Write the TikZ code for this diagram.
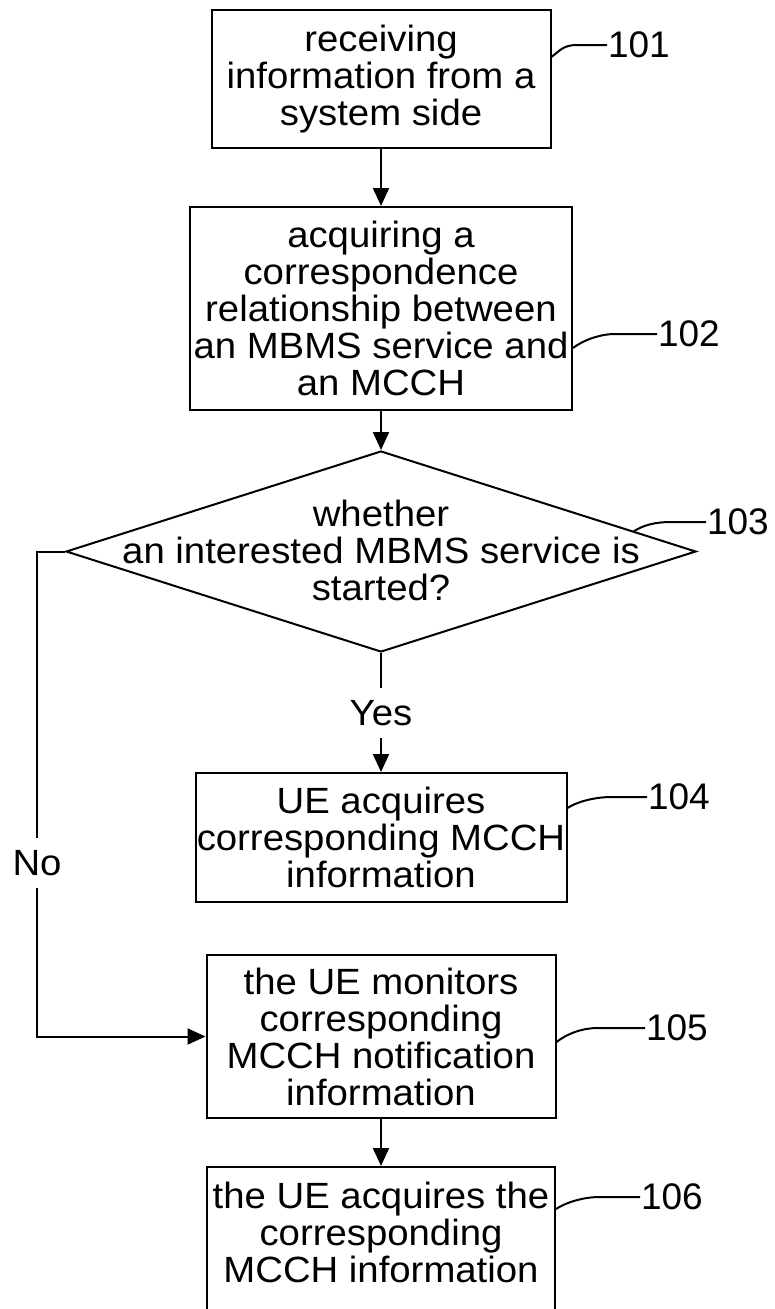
\documentclass[tikz,border=0pt]{standalone}
\usepackage{fontspec}
\setmainfont{Liberation Sans}[FakeStretch=1.05]
\newfontfamily\numfont{Liberation Sans}
\usetikzlibrary{arrows.meta,shapes.geometric,calc}

\begin{document}
\begin{tikzpicture}[x=1pt,y=-1pt,line width=2pt,
  stepbox/.style={draw, rectangle, align=center, inner sep=0pt, font=\fontsize{36.5}{37}\selectfont},
  decision/.style={draw, diamond, inner sep=0pt, minimum width=630pt, minimum height=201pt},
  asktext/.style={align=center, inner sep=0pt, font=\fontsize{36.5}{37}\selectfont},
  branch/.style={inner sep=0pt, minimum height=48pt, font=\fontsize{36.5}{37}\selectfont},
  reftext/.style={anchor=west, inner sep=0pt, font=\numfont\fontsize{37}{40}\selectfont},
  flow/.style={-{Triangle[length=18pt,width=16pt]}}]
  \useasboundingbox (0,0) rectangle (774,1309);
  \clip (0,0) rectangle (774,1309);
  % draw step boxes and the decision
  \node[stepbox, minimum width=339pt, minimum height=138pt] (s101) at (381,79) {receiving\\information from a\\system side};
  \node[stepbox, minimum width=382pt, minimum height=203pt] (s102) at (381,308.5) {acquiring a\\correspondence\\relationship between\\an MBMS service and\\an MCCH};
  \node[decision] (d103) at (381,551.5) {};
  \node[asktext] (q103) at (381,550) {whether\\an interested MBMS service is\\started?};
  \node[branch] (yes) at (381,713) {Yes};
  \node[stepbox, minimum width=371pt, minimum height=129pt] (s104) at (381,837.5) {UE acquires\\corresponding MCCH\\information};
  \node[branch] (no) at (37,863) {No};
  \node[stepbox, minimum width=349pt, minimum height=163pt] (s105) at (381,1036.5) {the UE monitors\\corresponding\\MCCH notification\\information};
  \node[stepbox, minimum width=348pt, inner ysep=15pt, anchor=north] (s106) at (381,1166) {the UE acquires the\\corresponding\\MCCH information\\\rule{0pt}{40pt}};
  % flow arrows
  \draw[flow] (s101) -- (s102);
  \draw[flow] (s102) -- (d103);
  \draw (d103) -- (yes);
  \draw[flow] (yes) -- (s104);
  \draw (d103.west) -| (no);
  \draw[flow] (no) |- (s105.west);
  \draw[flow] (s105) -- (s106);
  % reference numerals with leaders
  \node[reftext] (n101) at (607,45) {101};
  \draw (n101.west) -- ++(-30,0) .. controls +(-14,0) and +(8,-6) .. ($(s101.east |- n101.west)+(0,12)$);
  \node[reftext] (n102) at (657,334) {102};
  \draw (n102.west) -- ++(-42,0) .. controls +(-16,0) and +(9,-7) .. ($(s102.east |- n102.west)+(0,14)$);
  \node[reftext] (n103) at (706,522) {103};
  \draw (n103.west) -- ++(-34,0) .. controls +(-18,0) and +(10,-6) .. ($(d103.north)!0.8!(d103.east)$);
  \node[reftext] (n104) at (647,797) {104};
  \draw (n104.west) -- ++(-35,0) .. controls +(-18,0) and +(9,-6) .. ($(s104.east |- n104.west)+(0,11)$);
  \node[reftext] (n105) at (645,1028) {105};
  \draw (n105.west) -- ++(-47,0) .. controls +(-18,0) and +(9,-7) .. ($(s105.east |- n105.west)+(0,14)$);
  \node[reftext] (n106) at (640,1197) {106};
  \draw (n106.west) -- ++(-40,0) .. controls +(-18,0) and +(9,-6) .. ($(s106.east |- n106.west)+(0,12)$);
\end{tikzpicture}
\end{document}
